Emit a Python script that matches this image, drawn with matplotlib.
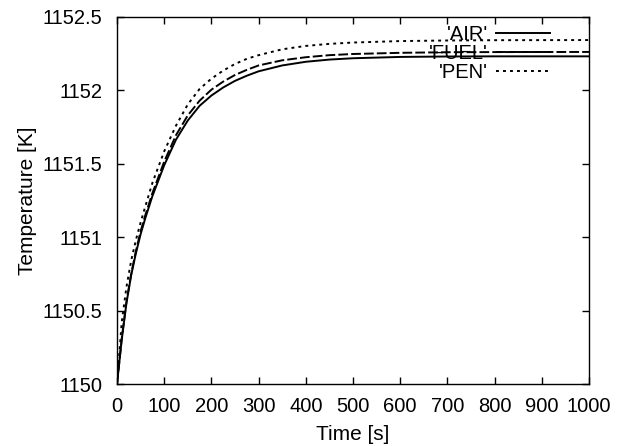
import numpy as np
import matplotlib
matplotlib.use("Agg")
import matplotlib.pyplot as plt

plt.rcParams['font.family'] = ['Liberation Sans', 'DejaVu Sans']

# time axis [s]
t = [0, 10, 20, 30, 40, 50, 60, 75, 100, 125, 150, 175, 200, 225, 250, 275,
     300, 350, 400, 450, 500, 600, 700, 800, 1000]

# temperatures [K]
air = [1150.00, 1150.30, 1150.55, 1150.74, 1150.89, 1151.02, 1151.13, 1151.28,
       1151.49, 1151.665, 1151.795, 1151.895, 1151.965, 1152.02, 1152.065,
       1152.10, 1152.13, 1152.17, 1152.195, 1152.21, 1152.219, 1152.228,
       1152.231, 1152.232, 1152.232]
fuel = [1150.00, 1150.31, 1150.56, 1150.75, 1150.905, 1151.04, 1151.15, 1151.30,
        1151.515, 1151.695, 1151.83, 1151.93, 1152.005, 1152.06, 1152.105,
        1152.14, 1152.17, 1152.205, 1152.226, 1152.24, 1152.248, 1152.256,
        1152.26, 1152.261, 1152.262]
pen = [1150.00, 1150.42, 1150.66, 1150.84, 1150.98, 1151.10, 1151.21, 1151.37,
       1151.585, 1151.76, 1151.905, 1152.01, 1152.08, 1152.135, 1152.18,
       1152.215, 1152.24, 1152.28, 1152.303, 1152.317, 1152.326, 1152.336,
       1152.340, 1152.342, 1152.343]

xticks = [0, 100, 200, 300, 400, 500, 600, 700, 800, 900, 1000]
yticks = [1150, 1150.5, 1151, 1151.5, 1152, 1152.5]
ytick_labels = ['1150', '1150.5', '1151', '1151.5', '1152', '1152.5']

fig = plt.figure(figsize=(6.22, 4.46), dpi=100)
ax = fig.add_axes([117 / 622, 62 / 446, 472 / 622, 367 / 446])

lw = 1.4
ax.plot(t, air, color='black', lw=lw, label="'AIR'")
ax.plot(t, fuel, color='black', lw=lw, linestyle=(0, (5.0, 1.6)), label="'FUEL'")
ax.plot(t, pen, color='black', lw=lw, linestyle=(0, (1.5, 2.1)), label="'PEN'")

ax.set_xlim(0, 1000)
ax.set_ylim(1150, 1152.5)
ax.set_xticks(xticks)
ax.set_yticks(yticks)
ax.set_yticklabels(ytick_labels)
ax.tick_params(direction='in', length=5, width=1, top=True, right=True,
               labelsize=14.5)
ax.tick_params(axis='y', pad=10.5)
ax.tick_params(axis='x', pad=9.5)
for s in ax.spines.values():
    s.set_linewidth(1)

ax.set_xlabel('Time [s]', fontsize=15, labelpad=6)
ax.set_ylabel('Temperature [K]', fontsize=15, labelpad=4)

ax.legend(loc='upper right', bbox_to_anchor=(0.935, 1.0), frameon=False,
          markerfirst=False, fontsize=14.5, handlelength=2.7, handletextpad=0.4,
          labelspacing=0.0, borderaxespad=0)

fig.savefig('out.png', dpi=100)
